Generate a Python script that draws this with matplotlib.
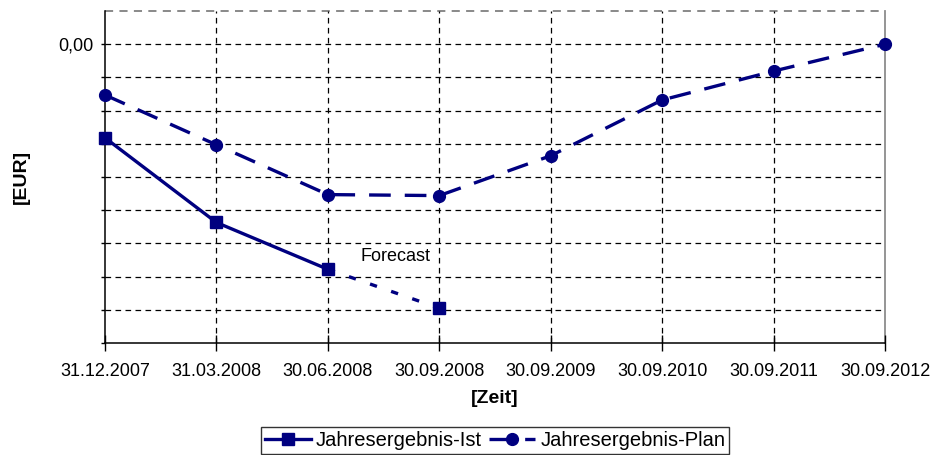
import matplotlib
matplotlib.use("Agg")
import matplotlib.pyplot as plt
from matplotlib.lines import Line2D
from matplotlib.ticker import FixedLocator, FuncFormatter

plt.rcParams['font.family'] = ['Liberation Sans', 'DejaVu Sans']

dates = ["31.12.2007", "31.03.2008", "30.06.2008", "30.09.2008",
         "30.09.2009", "30.09.2010", "30.09.2011", "30.09.2012"]
ist_values = [-2.82, -5.37, -6.78, -7.95]      # last value is the forecast
plan_values = [-1.53, -3.03, -4.53, -4.56, -3.36, -1.68, -0.81, 0.0]
y_ticks = [1, 0, -1, -2, -3, -4, -5, -6, -7, -8, -9]

navy = "#000080"

fig = plt.figure(figsize=(9.4, 4.55), dpi=100)
ax = fig.add_axes([105 / 940, 1 - 343 / 455, 780 / 940, 332 / 455])

x = list(range(len(dates)))
n_actual = 3

ax.set_xlim(0, len(dates) - 1)
ax.set_ylim(min(y_ticks), max(y_ticks))

# grid
for yv in y_ticks[1:-1]:
    ax.axhline(yv, color="black", lw=0.9, ls=(0, (4.5, 3.5)), zorder=1)
ax.axhline(y_ticks[0], color="#808080", lw=1.3, ls=(0, (4.5, 3.5)),
           zorder=1, clip_on=False)
for xv in x[1:-1]:
    ax.axvline(xv, color="black", lw=0.9, ls=(0, (4.5, 3.5)), zorder=1)

# plan line
ax.plot(x, plan_values, color=navy, lw=2.4, dashes=(6.5, 4.2),
        marker="o", ms=8.5, zorder=3, clip_on=False)
# actual values
ax.plot(x[:n_actual], ist_values[:n_actual], color=navy, lw=2.4,
        marker="s", ms=8.2, zorder=3, clip_on=False)
# forecast segment
ax.plot(x[n_actual - 1:n_actual + 1], ist_values[n_actual - 1:n_actual + 1],
        color=navy, lw=2.4, dashes=(2.2, 4.5), zorder=3)
ax.plot(x[n_actual], ist_values[n_actual], color=navy, marker="s", ms=8.2,
        ls="none", zorder=3)
ax.text(2.61, -6.39, "Forecast", fontsize=13, ha="center", va="center")

# spines
for s in ("top", "right"):
    ax.spines[s].set_visible(False)
ax.axvline(x[-1], color="#8c8c8c", lw=1.3, zorder=1, clip_on=False)
ax.spines["left"].set_linewidth(1.1)
ax.spines["bottom"].set_linewidth(1.1)

ax.yaxis.set_major_locator(FixedLocator(y_ticks[1:]))
ax.yaxis.set_major_formatter(FuncFormatter(lambda v, p: "0,00" if abs(v) < 1e-9 else ""))
ax.tick_params(axis="y", direction="out", length=3, width=1, labelsize=13, pad=5.5)
ax.set_xticks(x)
ax.set_xticklabels(dates)
ax.tick_params(axis="x", direction="inout", length=11, width=1, labelsize=13, pad=9)

ax.set_ylabel("[EUR]", fontsize=14, fontweight="bold")
ax.set_xlabel("[Zeit]", fontsize=14, fontweight="bold", labelpad=7)
ax.yaxis.set_label_coords(-75 / 780, 0.5)

handles = [
    Line2D([], [], color=navy, lw=2.4, marker="s", ms=8.2),
    Line2D([], [], color=navy, lw=2.4, marker="o", ms=8.5, dashes=(6.5, 4.2)),
]
leg = fig.legend(handles, ["Jahresergebnis-Ist", "Jahresergebnis-Plan"],
                 loc="upper center", bbox_to_anchor=(495 / 940, 1 - 427 / 455),
                 ncol=2, fontsize=14.5, frameon=True, fancybox=False,
                 handlelength=2.3, handletextpad=0.25, columnspacing=0.35,
                 borderpad=0.2, borderaxespad=0)
leg.get_frame().set_edgecolor("black")
leg.get_frame().set_linewidth(1.0)

fig.savefig("out.png", dpi=100)
